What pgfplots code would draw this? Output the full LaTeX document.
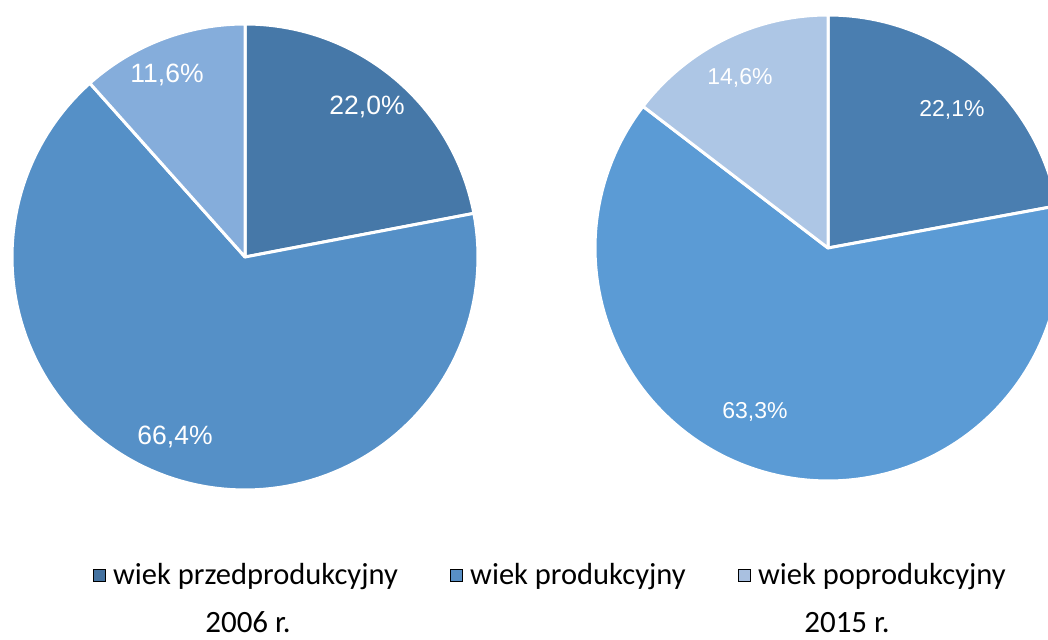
\documentclass[border=0pt]{standalone}
\usepackage{pgfplots}
\pgfplotsset{compat=1.18}
\usepackage{fontspec}
\setmainfont{Carlito}
\newfontfamily\arial{Liberation Sans}
\definecolor{lA}{RGB}{70,120,168}
\definecolor{lB}{RGB}{85,144,199}
\definecolor{lC}{RGB}{133,173,219}
\definecolor{rA}{RGB}{74,126,176}
\definecolor{rB}{RGB}{91,155,213}
\definecolor{rC}{RGB}{173,198,229}
\definecolor{gA}{RGB}{68,114,160}
\definecolor{gB}{RGB}{88,143,197}
\definecolor{gC}{RGB}{169,192,224}

% #1,#2 centre (px), #3 share before the slice, #4 share, #5 colour
\newcommand{\slice}[5]{%
  \addplot[forget plot, fill=#5, draw=white, line width=3pt, line join=round,
    domain={90-3.6*(#3+#4)}:{90-3.6*(#3)}, samples=120]
    ({#1+233*cos(x)},{#2+233*sin(x)}) -- (axis cs:#1,#2) -- cycle;
}

\begin{document}
\begin{tikzpicture}
\begin{axis}[
  width=1048pt, height=639pt, scale only axis,
  xmin=0, xmax=1048, ymin=0, ymax=639,
  hide axis, clip=true,
  legend columns=3,
  legend style={draw=none, fill=none, at={(0.525,0.1)}, anchor=center,
    font=\fontsize{30.5}{34}\selectfont,
    /tikz/every odd column/.append style={column sep=6pt},
    /tikz/every even column/.append style={column sep=50pt}},
  legend image code/.code={\fill[#1] (0pt,-6pt) rectangle (12pt,6pt);},
]
  % 2006
  \slice{245}{382}{0}{22.0}{lA}
  \slice{245}{382}{22.0}{66.4}{lB}
  \slice{245}{382}{22.0+66.4}{11.6}{lC}
  % 2015
  \slice{828}{391}{0}{22.1}{rA}
  \slice{828}{391}{22.1}{63.3}{rB}
  \slice{828}{391}{22.1+63.3}{14.6}{rC}

  \addlegendimage{fill=gA}\addlegendentry{wiek przedprodukcyjny}
  \addlegendimage{fill=gB}\addlegendentry{wiek produkcyjny}
  \addlegendimage{fill=gC}\addlegendentry{wiek poprodukcyjny}

  \begin{scope}[every node/.style={text=white, font=\arial\fontsize{26.5}{30}\selectfont}]
    \node at (367,532) {22,0\%};
    \node at (175,202) {66,4\%};
    \node at (167,564) {11,6\%};
  \end{scope}
  \begin{scope}[every node/.style={text=white, font=\arial\fontsize{23}{27}\selectfont}]
    \node at (952,529) {22,1\%};
    \node at (755,227) {63,3\%};
    \node at (740,561) {14,6\%};
  \end{scope}
  \node[anchor=base, font=\fontsize{31}{34}\selectfont] at (248,6) {2006 r.};
  \node[anchor=base, font=\fontsize{31}{34}\selectfont] at (847,6) {2015 r.};
\end{axis}
\pgfresetboundingbox
\useasboundingbox (current axis.south west) rectangle (current axis.north east);
\end{tikzpicture}
\end{document}
